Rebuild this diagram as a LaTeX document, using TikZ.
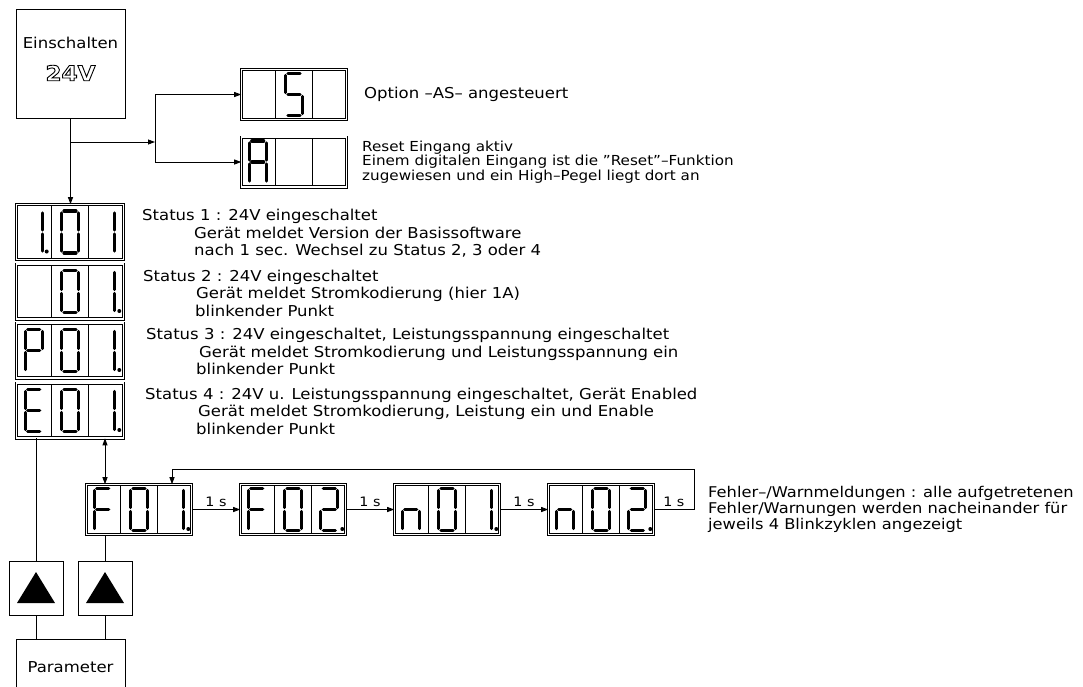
\documentclass[tikz,border=0pt]{standalone}
\usepackage{fontspec}
\setmainfont{DejaVu Sans}[FakeStretch=1.1]
\usetikzlibrary{positioning, calc, arrows.meta}
\tikzset{
    >={Triangle[length=7pt,width=5pt]},
    box/.style={draw, line width=0.9pt, minimum width=109pt, minimum height=109pt, inner sep=0pt},
    disp/.style={draw, line width=0.8pt, double, double distance=1.6pt, minimum width=104.8pt, minimum height=49.8pt, inner sep=0pt},
    seg/.style={line width=3.2pt, line cap=round},
    key/.style={draw, line width=0.9pt, minimum size=54pt, inner sep=0pt},
    txt/.style={anchor=west, align=left, inner sep=0pt, font=\fontsize{15}{17.5}\selectfont},
    secs/.style={above, inner sep=2pt, font=\fontsize{13}{13}\selectfont},
}
% segments of one digit, relative to the middle of its cell
\def\sega{(-6,-21) -- (6,-21)}
\def\segb{(8.5,-19) -- (8.5,-2)}
\def\segc{(8.5,2) -- (8.5,19)}
\def\segd{(-6,21) -- (6,21)}
\def\sege{(-8.5,2) -- (-8.5,19)}
\def\segf{(-8.5,-19) -- (-8.5,-2)}
\def\segg{(-6,0) -- (6,0)}
\def\segx{}
\newcommand\digit[2]{%
  \begin{scope}[shift={(#1)}]
    \foreach \sg in {#2}{%
      \if p\sg \fill (13,19.5) circle (2pt);
      \else \draw[seg] \csname seg\sg\endcsname; \fi}
  \end{scope}}
\newcommand\cells[4]{%
  \foreach \dx in {-18.2,18.2}
    \draw[line width=0.8pt] ([xshift=\dx pt, yshift=-1.6pt]#1.north) -- ([xshift=\dx pt, yshift=1.6pt]#1.south);
  \digit{[xshift=-36.3pt]#1.center}{#2}
  \digit{#1.center}{#3}
  \digit{[xshift=36.3pt]#1.center}{#4}}
% hollow letters
\newcommand\hollow[1]{\special{pdf:code 1 Tr 0.9 w}#1\special{pdf:code 0 Tr 0.8 w}}

\begin{document}
\begin{tikzpicture}[x=1pt, y=-1pt]
    \clip (0,0) rectangle (1083,686);
    % power on
    \node[box] (on) at (70.5,63.5) {};
    \node[font=\fontsize{15}{15}\selectfont] (onlbl) at ([yshift=20.5pt]on.center) {Einschalten};
    \node[font=\fontsize{21}{21}\selectfont\bfseries] (onv) at ([yshift=-9.5pt]on.center) {\hollow{24V}};

    % option displays
    \node[disp] (sd) at (294,94.5) {};
    \node[disp] (ad) at (294,162) {};
    \cells{sd}{x}{a,f,g,c,d}{x}
    \cells{ad}{a,b,c,e,f,g}{x}{x}
    \coordinate (j) at (71,142);
    \coordinate (k) at (155,142);
    \draw[line width=0.8pt, ->] (j) -- (k);
    \draw[line width=0.8pt, ->] (k) |- (sd.west);
    \draw[line width=0.8pt, ->] (k) |- (ad.west);
    \node[txt] (sdtxt) at (364,94) {Option --AS-- angesteuert};
    \node[txt, font=\fontsize{13.8}{14.5}\selectfont] (adtxt) at (362,162) {Reset Eingang aktiv\\Einem digitalen Eingang ist die "Reset"--Funktion\\zugewiesen und ein High--Pegel liegt dort an};

    % status displays
    \node[disp, minimum height=54.8pt, minimum width=106.8pt] (st1) at (70,232) {};
    \node[disp, minimum height=54.8pt, minimum width=106.8pt] (st2) at (70,291.5) {};
    \node[disp, minimum height=54.8pt, minimum width=106.8pt] (st3) at (70,350.5) {};
    \node[disp, minimum height=54.8pt, minimum width=106.8pt] (st4) at (70,410.5) {};
    \cells{st1}{b,c,p}{a,b,c,d,e,f}{b,c}
    \cells{st2}{x}{a,b,c,d,e,f}{b,c,p}
    \cells{st3}{a,b,f,g,e}{a,b,c,d,e,f}{b,c,p}
    \cells{st4}{a,f,g,e,d}{a,b,c,d,e,f}{b,c,p}
    \draw[line width=0.8pt, ->] (on.south) -- (on.south |- st1.north);
    \node[txt] (st1txt) at (142,233.5) {Status 1 : 24V eingeschaltet\\\hspace*{52pt}Gerät meldet Version der Basissoftware\\\hspace*{52pt}nach 1 sec. Wechsel zu Status 2, 3 oder 4};
    \node[txt] (st2txt) at (143,293) {Status 2 : 24V eingeschaltet\\\hspace*{53pt}Gerät meldet Stromkodierung (hier 1A)\\\hspace*{52pt}blinkender Punkt};
    \node[txt] (st3txt) at (146,351.5) {Status 3 : 24V eingeschaltet, Leistungsspannung eingeschaltet\\\hspace*{53pt}Gerät meldet Stromkodierung und Leistungsspannung ein\\\hspace*{50pt}blinkender Punkt};
    \node[txt] (st4txt) at (145,411) {Status 4 : 24V u. Leistungsspannung eingeschaltet, Gerät Enabled\\\hspace*{53pt}Gerät meldet Stromkodierung, Leistung ein und Enable\\\hspace*{51pt}blinkender Punkt};

    % error / warning row
    \node[disp] (f1) at (139,509.5) {};
    \node[disp] (f2) at (293,509.5) {};
    \node[disp] (f3) at (447,509.5) {};
    \node[disp] (f4) at (601,509.5) {};
    \cells{f1}{a,f,g,e}{a,b,c,d,e,f}{b,c,p}
    \cells{f2}{a,f,g,e}{a,b,c,d,e,f}{a,b,g,e,d,p}
    \cells{f3}{c,e,g}{a,b,c,d,e,f}{b,c,p}
    \cells{f4}{c,e,g}{a,b,c,d,e,f}{a,b,g,e,d,p}
    \draw[line width=0.8pt, ->] (f1) -- node[secs]{1 s} (f2);
    \draw[line width=0.8pt, ->] (f2) -- node[secs]{1 s} (f3);
    \draw[line width=0.8pt, ->] (f3) -- node[secs]{1 s} (f4);
    \coordinate (ret) at (694,509.5);
    \draw[line width=0.8pt] (f4.east) -- node[secs]{1 s} (ret);
    \draw[line width=0.8pt, ->] (ret) -- ++(0,-40.5) -| ([xshift=33pt]f1.north);
    \draw[line width=0.8pt, <->] ([xshift=35pt]st4.south) -- ([xshift=35pt]st4.south |- f1.north);
    \node[txt, font=\fontsize{14.8}{16}\selectfont] (ftxt) at (708,509.5) {Fehler--/Warnmeldungen : alle aufgetretenen\\Fehler/Warnungen werden nacheinander für\\jeweils 4 Blinkzyklen angezeigt};

    % keys and parameter
    \node[key] (up1) at (36,588) {};
    \node[key] (up2) at (105,588) {};
    \foreach \k in {up1,up2}
        \fill ([yshift=16pt]\k.center) -- ([shift={(-19pt,-15pt)}]\k.center) -- ([shift={(19pt,-15pt)}]\k.center) -- cycle;
    \node[box, minimum height=56pt, font=\fontsize{15}{15}\selectfont] (par) at (70.5,667) {Parameter};
    \draw[line width=0.8pt] ([xshift=-34pt]st4.south) -- (up1.north);
    \draw[line width=0.8pt] (up2.north) -- (up2.north |- f1.south);
    \draw[line width=0.8pt] (up1.south) -- (up1.south |- par.north);
    \draw[line width=0.8pt] (up2.south) -- (up2.south |- par.north);
\end{tikzpicture}
\end{document}
